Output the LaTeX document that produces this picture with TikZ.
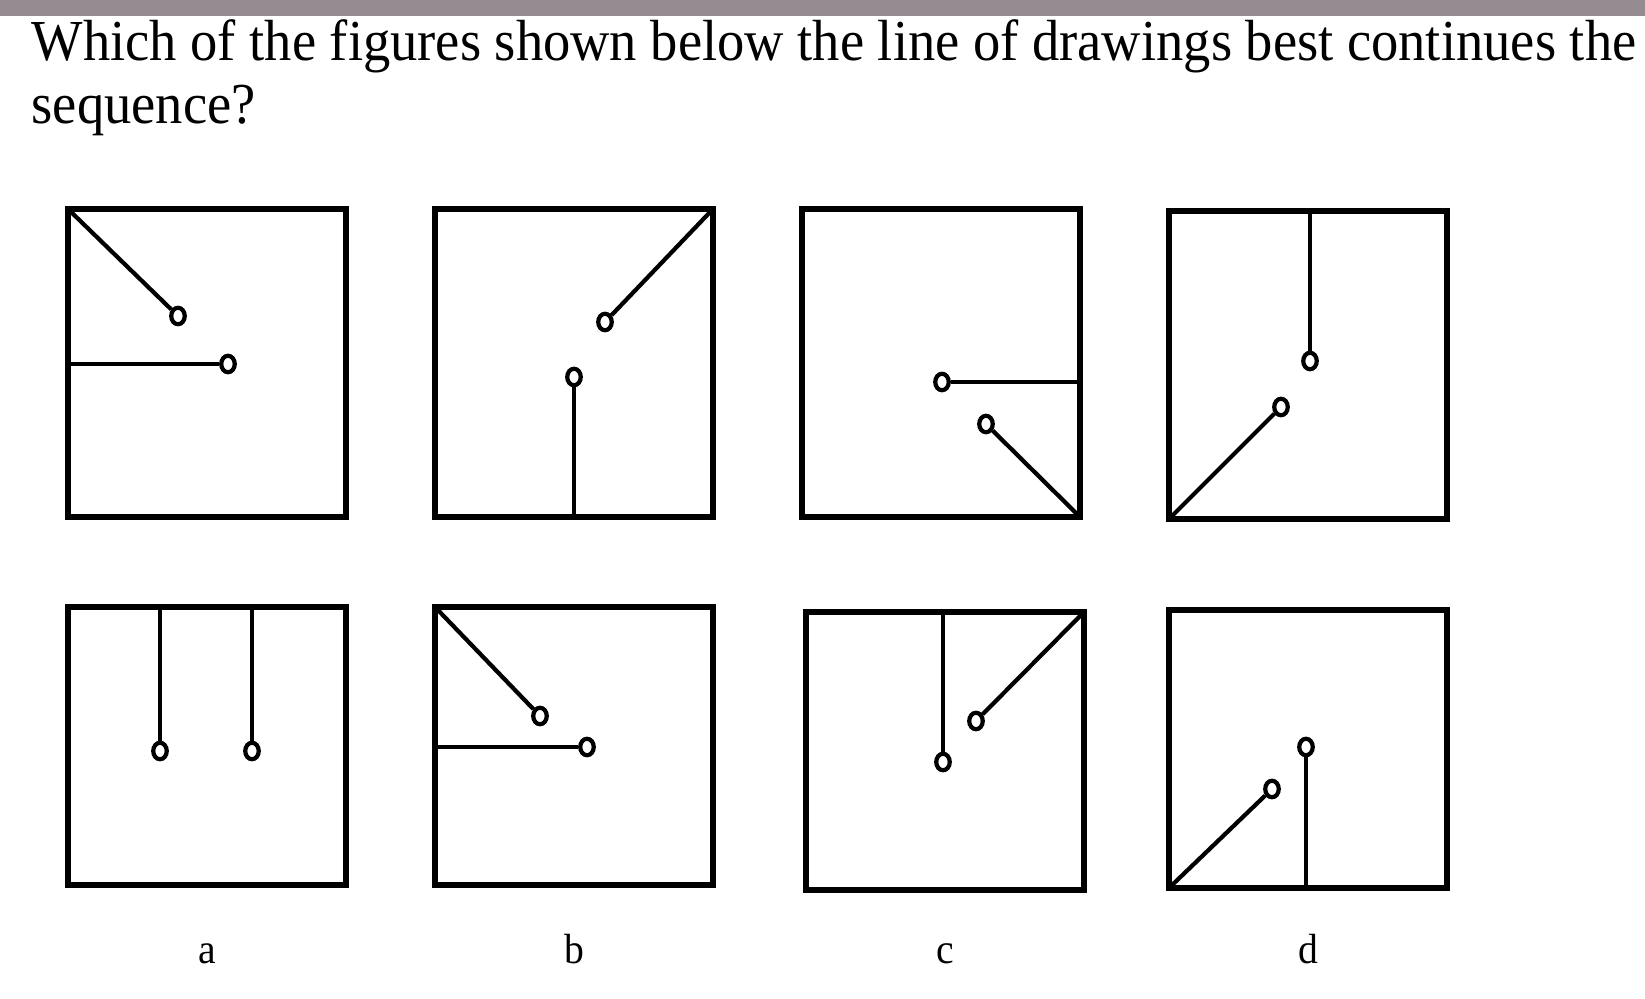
\documentclass[tikz,border=0pt]{standalone}
\usepackage{fontspec}
\setmainfont{Liberation Serif}[FakeStretch=0.94]
\usetikzlibrary{shapes.geometric, positioning, calc}
\definecolor{ink}{HTML}{000000}
\definecolor{topbar}{HTML}{948C90}
\tikzset{
  panel/.style   ={draw=ink, line width=1.6pt, outer sep=0pt, inner sep=0pt,
                   minimum width=2.78cm, minimum height=3.08cm},
  panelo/.style  ={panel, minimum height=2.78cm},
  ring/.style    ={ellipse, draw=ink, line width=1.2pt, fill=white,
                   minimum width=0.135cm, minimum height=0.165cm, inner sep=0pt},
  stick/.style   ={draw=ink, line width=1.2pt},
  question/.style={font=\fontsize{16.5}{17}\selectfont, inner sep=0pt, anchor=base west},
  tag/.style     ={font=\fontsize{12}{12}\selectfont, inner sep=0pt, text height=0.29cm}
}

\begin{document}
\begin{tikzpicture}[node distance=0.9cm and 0.89cm]
  \useasboundingbox (0,0) rectangle (16.45,-9.99);
  \fill[topbar] (0,0) rectangle (16.45,-0.16);

  \node[question] (q1) at (0.31,-0.61) {Which of the figures shown below the line of drawings best continues the};
  \node[question] (q2) at ([yshift=-0.63cm]q1.base west) {sequence?};

  \node[panel] (f1) at (2.07,-3.63) {};
  \node[panel, right=of f1] (f2) {};
  \node[panel, right=of f2] (f3) {};
  \node[panel, right=of f3, yshift=-0.02cm] (f4) {};

  \node[panelo, below=of f1] (oa) {};
  \node[panelo, right=of oa] (ob) {};
  \node[panelo, right=of ob, xshift=0.04cm, yshift=-0.05cm] (oc) {};
  \node[panelo, right=of oc, xshift=-0.04cm, yshift=0.02cm] (od) {};

  \node[ring] (r1a) at ($(f1.north west)+(1.10,-1.07)$) {};
  \node[ring] (r1b) at ($(f1.north west)+(1.60,-1.55)$) {};
  \draw[stick] (f1.north west) -- (r1a);
  \draw[stick] (f1.west |- r1b) -- (r1b);

  \node[ring] (r2a) at ($(f2.north west)+(1.70,-1.13)$) {};
  \node[ring] (r2b) at ($(f2.north west)+(1.39,-1.68)$) {};
  \draw[stick] (f2.north east) -- (r2a);
  \draw[stick] (r2b |- f2.south) -- (r2b);

  \node[ring] (r3a) at ($(f3.north west)+(1.40,-1.73)$) {};
  \node[ring] (r3b) at ($(f3.north west)+(1.84,-2.15)$) {};
  \draw[stick] (f3.east |- r3a) -- (r3a);
  \draw[stick] (f3.south east) -- (r3b);

  \node[ring] (r4a) at ($(f4.north west)+(1.41,-1.50)$) {};
  \node[ring] (r4b) at ($(f4.north west)+(1.12,-1.96)$) {};
  \draw[stick] (r4a |- f4.north) -- (r4a);
  \draw[stick] (f4.south west) -- (r4b);

  \node[ring] (rAa) at ($(oa.north west)+(0.92,-1.44)$) {};
  \node[ring] (rAb) at ($(oa.north west)+(1.84,-1.44)$) {};
  \draw[stick] (rAa |- oa.north) -- (rAa);
  \draw[stick] (rAb |- oa.north) -- (rAb);

  \node[ring] (rBa) at ($(ob.north west)+(1.05,-1.09)$) {};
  \node[ring] (rBb) at ($(ob.north west)+(1.52,-1.40)$) {};
  \draw[stick] (ob.north west) -- (rBa);
  \draw[stick] (ob.west |- rBb) -- (rBb);

  \node[ring] (rCa) at ($(oc.north west)+(1.37,-1.50)$) {};
  \node[ring] (rCb) at ($(oc.north west)+(1.70,-1.09)$) {};
  \draw[stick] (rCa |- oc.north) -- (rCa);
  \draw[stick] (oc.north east) -- (rCb);

  \node[ring] (rDa) at ($(od.north west)+(1.03,-1.79)$) {};
  \node[ring] (rDb) at ($(od.north west)+(1.37,-1.37)$) {};
  \draw[stick] (od.south west) -- (rDa);
  \draw[stick] (rDb |- od.south) -- (rDb);

  \node[tag, below=0.49cm of oa] (la) {a};
  \node[tag, anchor=base] (lb) at (ob.south |- la.base) {b};
  \node[tag, anchor=base] (lc) at (oc.south |- la.base) {c};
  \node[tag, anchor=base] (ld) at (od.south |- la.base) {d};
\end{tikzpicture}
\end{document}
